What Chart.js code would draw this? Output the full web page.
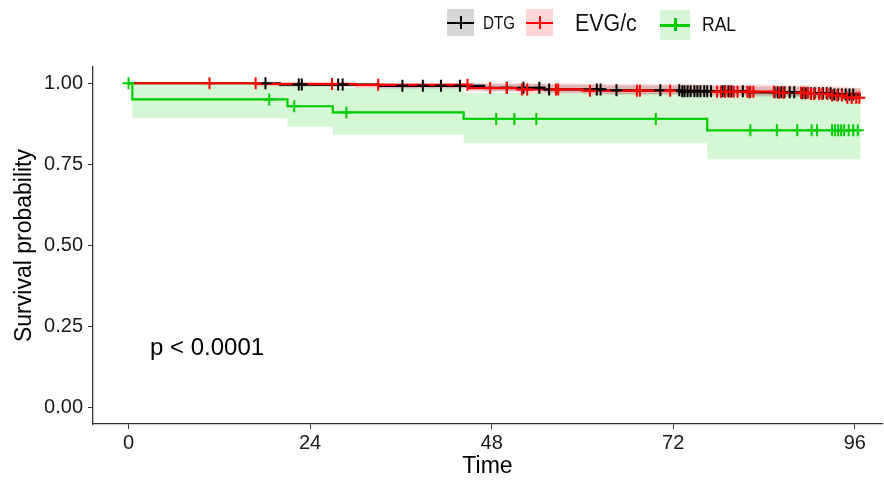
<!DOCTYPE html>
<html>
<head>
<meta charset="utf-8">
<script src="https://cdn.jsdelivr.net/npm/chart.js@4.4.1/dist/chart.umd.min.js"></script>
<style>
  body { margin: 0; background: #fff; font-family: "Liberation Sans", Arial, sans-serif; }
  #wrap { position: relative; width: 884px; height: 480px; }
  #chart { position: absolute; left: 0; top: 0; }
  .key { position: absolute; }
  .key .h { position: absolute; left: 0; right: 0; height: 2.5px; }
  .key .v { position: absolute; width: 2.5px; height: 13px; }
  .lab { position: absolute; white-space: nowrap; transform-origin: left center; color: #111; }
</style>
</head>
<body>
<div id="wrap">
  <canvas id="chart" width="884" height="480"></canvas>
  <div class="key" style="left:447px;top:9px;width:27px;height:27px;background:#d6d6d6">
    <div class="h" style="top:12.5px;background:#000"></div>
    <div class="v" style="left:12.5px;top:7px;background:#000"></div>
  </div>
  <div class="lab" id="lab0" style="left:483px;top:12px;font-size:19px;line-height:22px;transform:scaleX(0.8)"></div>
  <div class="key" style="left:526px;top:9px;width:27px;height:27px;background:#ffd6d6">
    <div class="h" style="top:12.5px;background:#ff0000"></div>
    <div class="v" style="left:12.5px;top:7px;background:#ff0000"></div>
  </div>
  <div class="lab" id="lab1" style="left:575px;top:10px;font-size:23px;line-height:26px;transform:scaleX(0.93)"></div>
  <div class="key" style="left:660px;top:10px;width:30px;height:30px;background:#d6f5d6">
    <div class="h" style="top:14px;background:#00cd00"></div>
    <div class="v" style="left:14px;top:8px;background:#00cd00"></div>
  </div>
  <div class="lab" id="lab2" style="left:702px;top:13px;font-size:20px;line-height:23px;transform:scaleX(0.875)"></div>
  <div class="lab" id="pval" style="left:150px;top:333px;font-size:24px;line-height:27px;color:#000"></div>
</div>
<script>
const groupNames = ['DTG', 'EVG/c', 'RAL'];
const xTicks = [0, 24, 48, 72, 96];
const yTicks = [0, 0.25, 0.5, 0.75, 1];
const pText = 'p < 0.0001';

// DTG
const dtgTime  = [0, 20, 33, 47, 55, 63, 73, 82, 89, 93, 96.8];
const dtgSurv  = [1, 0.996, 0.992, 0.986, 0.981, 0.978, 0.975, 0.972, 0.969, 0.965, 0.965];
const dtgLower = [1, 0.990, 0.984, 0.976, 0.970, 0.966, 0.962, 0.959, 0.955, 0.950, 0.950];
const dtgUpper = [1, 1, 1, 0.998, 0.995, 0.993, 0.991, 0.989, 0.987, 0.984, 0.984];
const dtgCensor = [18.1, 22.5, 22.9, 27.7, 28.3, 36.2, 38.9, 41.3, 43.8, 50, 52.2, 54.3, 55.6, 61.9, 62.4, 64.5,
  70.3, 72.8, 73.2, 73.5, 73.9, 74.3, 74.8, 75.2, 75.6, 76.1, 76.5, 77.0, 78.5, 78.8, 79.3, 79.7, 81.2, 82.1,
  85.4, 85.8, 86.3, 86.7, 87.4, 88.0, 89.0, 89.5, 90.2, 90.7, 91.3, 91.8, 92.3, 92.8, 93.3, 93.8, 94.3, 94.8, 95.3, 95.8];

// EVG/c
const evgTime  = [0, 17, 30, 45, 52, 60, 75, 86, 90, 93, 95, 96.8];
const evgSurv  = [1, 0.998, 0.995, 0.985, 0.981, 0.977, 0.974, 0.971, 0.967, 0.962, 0.955, 0.955];
const evgLower = [1, 0.991, 0.985, 0.974, 0.969, 0.965, 0.962, 0.958, 0.953, 0.946, 0.936, 0.936];
const evgUpper = [1, 1, 1, 1, 0.999, 0.997, 0.995, 0.994, 0.992, 0.990, 0.986, 0.986];
const evgCensor = [10.7, 16.8, 26.9, 33, 44.8, 47.8, 50, 52, 52.7, 56.5, 56.8, 61, 67.2, 67.6, 71.6,
  77.8, 78.3, 78.9, 79.5, 80.0, 80.5, 81.8, 82.2, 82.6, 85.3, 86.0, 86.6, 88.9, 89.3, 89.8, 90.2, 90.6,
  91.3, 91.7, 92.4, 93.0, 93.7, 94.3, 95.0, 95.6, 96.2, 96.6];

// RAL
const ralTime  = [0, 0.5, 21, 27, 44.3, 76.5, 96.8];
const ralSurv  = [1, 0.95, 0.929, 0.91, 0.89, 0.855, 0.855];
const ralLower = [1, 0.892, 0.866, 0.842, 0.815, 0.766, 0.766];
const ralUpper = [1, 1, 0.995, 0.985, 0.97, 0.965, 0.965];
const ralCensor = [0, 18.6, 21.9, 28.8, 48.6, 51, 53.9, 69.7, 82.2, 85.7, 88.4, 90.3, 91, 93, 93.4, 93.8,
  94.2, 94.6, 95.2, 95.8, 96.4];

const fam = '"Liberation Sans", Arial, sans-serif';

document.getElementById('lab0').innerText = groupNames[0];
document.getElementById('lab1').innerText = groupNames[1];
document.getElementById('lab2').innerText = groupNames[2];
document.getElementById('pval').innerText = pText;

function steps(times, vals) {
    return times.map((t, i) => ({ x: t, y: vals[i] }));
}

// survival value at time t (last step at or before t)
function survAt(times, surv, t) {
    let v = surv[0];
    for (let i = 0; i < times.length; i++) {
        if (times[i] <= t) v = surv[i];
    }
    return v;
}

function marks(times, surv, cens) {
    return cens.map(t => ({ x: t, y: survAt(times, surv, t) }));
}

// chart.js 'before' = hold previous value, then drop at the new time
function band(times, upper, lower, color, order) {
    return [
        { data: steps(times, upper), stepped: 'before', borderWidth: 0, borderColor: 'transparent', pointRadius: 0, fill: false, order: order },
        { data: steps(times, lower), stepped: 'before', borderWidth: 0, borderColor: 'transparent', pointRadius: 0, fill: '-1', backgroundColor: color, order: order }
    ];
}

function curve(times, surv, color, order) {
    return { data: steps(times, surv), stepped: 'before', borderColor: color, borderWidth: 2.2, pointRadius: 0, fill: false, order: order };
}

function censor(times, surv, cens, color, order) {
    return {
        data: marks(times, surv, cens), showLine: false, pointStyle: 'cross', pointRadius: 6,
        pointBorderWidth: 2, borderColor: color, pointBorderColor: color, fill: false, order: order
    };
}

const datasets = [
    ...band(ralTime, ralUpper, ralLower, 'rgba(0,205,0,0.16)', 12),
    ...band(dtgTime, dtgUpper, dtgLower, 'rgba(0,0,0,0.15)', 11),
    ...band(evgTime, evgUpper, evgLower, 'rgba(255,0,0,0.16)', 10),
    curve(dtgTime, dtgSurv, '#000000', 6),
    curve(evgTime, evgSurv, '#ff0000', 5),
    curve(ralTime, ralSurv, '#00cd00', 4),
    censor(dtgTime, dtgSurv, dtgCensor, '#000000', 3),
    censor(evgTime, evgSurv, evgCensor, '#ff0000', 2),
    censor(ralTime, ralSurv, ralCensor, '#00cd00', 1)
];

const ctx = document.getElementById('chart').getContext('2d');
new Chart(ctx, {
    type: 'line',
    data: { datasets: datasets },
    options: {
        responsive: false,
        animation: false,
        layout: { autoPadding: false, padding: { top: 67, right: 2, left: 0, bottom: 0 } },
        plugins: {
            legend: { display: false },
            tooltip: { enabled: false }
        },
        scales: {
            x: {
                type: 'linear',
                min: -4.7,
                max: 99.6,
                afterBuildTicks: s => { s.ticks = xTicks.map(v => ({ value: v })); },
                afterFit: s => { s.height = 56; s.paddingLeft = 0; s.paddingRight = 0; },
                grid: { display: true, drawOnChartArea: false, drawTicks: true, tickLength: 5, color: '#333' },
                border: { display: true, color: '#333', width: 1.3 },
                ticks: { font: { family: fam, size: 20 }, color: '#1a1a1a', padding: 2, maxRotation: 0, autoSkip: false },
                title: { display: true, text: 'Time', font: { family: fam, size: 23 }, color: '#000', padding: { top: 0, bottom: 0 } }
            },
            y: {
                min: -0.05,
                max: 1.05,
                afterBuildTicks: s => { s.ticks = yTicks.map(v => ({ value: v })); },
                afterFit: s => { s.width = 93; s.paddingTop = 0; s.paddingBottom = 0; },
                grid: { display: true, drawOnChartArea: false, drawTicks: true, tickLength: 5, color: '#333' },
                border: { display: true, color: '#333', width: 1.3 },
                ticks: { font: { family: fam, size: 20 }, color: '#1a1a1a', padding: 5, callback: v => v.toFixed(2) },
                title: { display: true, text: 'Survival probability', font: { family: fam, size: 23 }, color: '#000', padding: { top: 11, bottom: 0 } }
            }
        }
    }
});
</script>
</body>
</html>
